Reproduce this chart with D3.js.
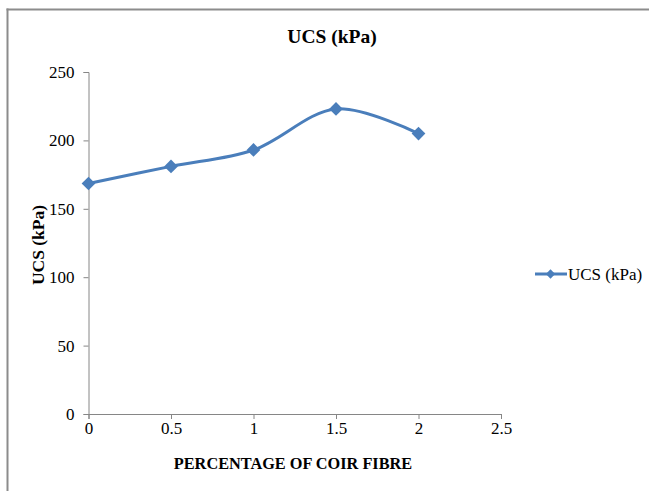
<!DOCTYPE html>
<html>
<head>
<meta charset="utf-8">
<script src="https://cdn.jsdelivr.net/npm/d3@7"></script>
<style>
  body { margin: 0; background: #fff; }
  svg { display: block; }
  svg text { font-family: "Liberation Serif", "Times New Roman", Times, serif; }
</style>
</head>
<body>
<svg id="chart" width="649" height="491"></svg>
<script>
// UCS test results against coir fibre content
const fibrePercent = [0, 0.5, 1, 1.5, 2];
const ucsValues = [168.5, 181, 193, 223, 205];
const xTicks = [0, 0.5, 1, 1.5, 2, 2.5];
const yTicks = [0, 50, 100, 150, 200, 250];
const seriesName = "UCS (kPa)";

const svg = d3.select("#chart");
const blue = "#4a7ebb";
const axisGray = "#868686";

// frame lines
svg.append("line").attr("x1", 6.5).attr("x2", 649).attr("y1", 9.5).attr("y2", 9.5)
  .attr("stroke", "#8c8c8c").attr("stroke-width", 2);
svg.append("line").attr("x1", 7.5).attr("x2", 7.5).attr("y1", 8.5).attr("y2", 491)
  .attr("stroke", "#8c8c8c").attr("stroke-width", 2);

const x = d3.scaleLinear().domain([0, 2.5]).range([88.5, 501]);
const y = d3.scaleLinear().domain([0, 250]).range([414, 72]);

// y axis
const yAxis = svg.append("g").attr("transform", "translate(88.5,0)")
  .call(d3.axisLeft(y).tickValues(yTicks).tickSize(5).tickPadding(9).tickFormat(d3.format("d")));
// x axis
const xAxis = svg.append("g").attr("transform", "translate(0,414)")
  .call(d3.axisBottom(x).tickValues(xTicks).tickSize(5).tickPadding(3).tickFormat(d => String(d)));

[yAxis, xAxis].forEach(g => {
  g.attr("font-family", null).attr("font-size", null);
  g.select(".domain").attr("stroke", axisGray);
  g.selectAll(".tick line").attr("stroke", axisGray);
  g.selectAll(".tick text").attr("fill", "#000").style("font-size", "17px");
});

// title
svg.append("text").attr("x", 332).attr("y", 43).attr("text-anchor", "middle")
  .style("font-size", "19.5px").style("font-weight", "bold").text("UCS (kPa)");

// axis titles
svg.append("text").attr("x", 293).attr("y", 469).attr("text-anchor", "middle")
  .style("font-size", "16.3px").style("font-weight", "bold").text("PERCENTAGE OF COIR FIBRE");
svg.append("text").attr("transform", "translate(44,245) rotate(-90)").attr("text-anchor", "middle")
  .style("font-size", "17.5px").style("font-weight", "bold").text("UCS (kPa)");

// smoothed series line
const data = fibrePercent.map((v, i) => ({ x: v, y: ucsValues[i] }));
const line = d3.line().x(d => x(d.x)).y(d => y(d.y)).curve(d3.curveCatmullRom.alpha(0.5));
svg.append("path").datum(data).attr("d", line)
  .attr("fill", "none").attr("stroke", blue).attr("stroke-width", 3).attr("stroke-linecap", "round");

// diamond markers
const diamond = d3.symbol().type(d3.symbolDiamond2).size(120);
svg.append("g").selectAll("path").data(data).join("path")
  .attr("transform", d => `translate(${x(d.x)},${y(d.y)})`)
  .attr("d", diamond).attr("fill", blue);

// legend
const lg = svg.append("g").attr("transform", "translate(535,274)");
lg.append("line").attr("x1", 0).attr("x2", 32).attr("y1", 0).attr("y2", 0)
  .attr("stroke", blue).attr("stroke-width", 3);
lg.append("path").attr("transform", "translate(15.5,0)").attr("d", d3.symbol().type(d3.symbolDiamond2).size(55)).attr("fill", blue);
lg.append("text").attr("x", 33).attr("y", 5.5).style("font-size", "17px").text(seriesName);
</script>
</body>
</html>
